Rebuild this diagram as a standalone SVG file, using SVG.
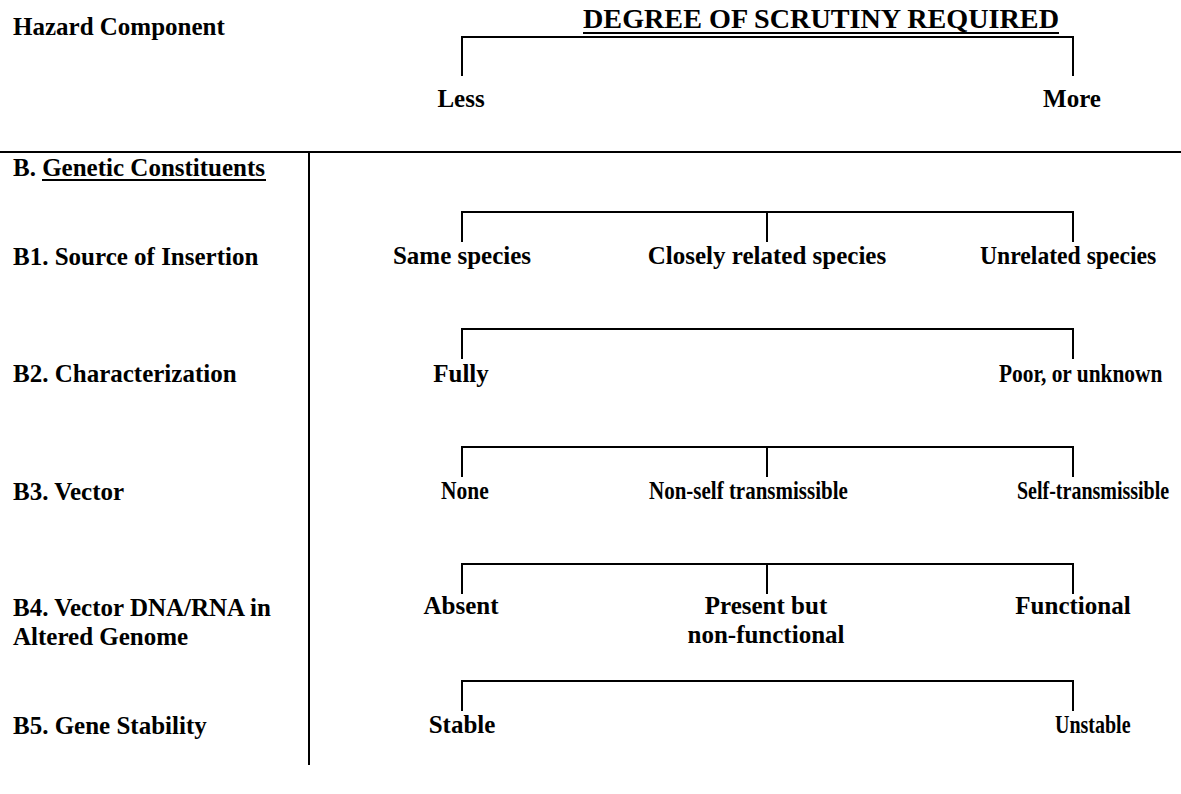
<svg xmlns="http://www.w3.org/2000/svg" width="1181" height="794" viewBox="0 0 1181 794">
<style>
text{font-family:"Liberation Serif","Times New Roman",serif;font-weight:bold;fill:#000;font-size:25px}
.m{text-anchor:middle}
.h{font-size:27px}
.br{fill:none;stroke:#000;stroke-width:2}
.rule{stroke:#000;stroke-width:2}
</style>
<rect width="1181" height="794" fill="#fff"/>
<g id="header">
<text x="13" y="35">Hazard Component</text>
<text class="h" x="583" y="28" textLength="476" lengthAdjust="spacingAndGlyphs">DEGREE OF SCRUTINY REQUIRED</text>
<line class="rule" x1="583" y1="33" x2="1059" y2="33" stroke-width="1.5"/>
<text class="m" x="461" y="107">Less</text>
<text class="m" x="1072" y="107">More</text>
</g>
<g id="table">
<line class="rule" x1="0" y1="152" x2="1181" y2="152"/>
<line class="rule" x1="309" y1="152" x2="309" y2="765"/>
</g>
<g id="section-b">
<text x="13" y="176">B. Genetic Constituents</text>
<line class="rule" x1="42" y1="180" x2="266" y2="180"/>
</g>
<g id="b1">
<text x="13" y="265">B1. Source of Insertion</text>
<text class="m" x="462" y="264">Same species</text>
<text class="m" x="767" y="264">Closely related species</text>
<text transform="translate(980,264) scale(0.947,1)">Unrelated species</text>
</g>
<g id="b2">
<text x="13" y="382">B2. Characterization</text>
<text class="m" x="461" y="382">Fully</text>
<text transform="translate(999,382) scale(0.856,1)">Poor, or unknown</text>
</g>
<g id="b3">
<text x="13" y="500">B3. Vector</text>
<text transform="translate(441,499) scale(0.86,1)">None</text>
<text transform="translate(649,499) scale(0.84,1)">Non-self transmissible</text>
<text transform="translate(1017,499) scale(0.8,1)">Self-transmissible</text>
</g>
<g id="b4">
<text x="13" y="616">B4. Vector DNA/RNA in</text>
<text x="13" y="645">Altered Genome</text>
<text class="m" x="461" y="614">Absent</text>
<text class="m" x="766" y="614">Present but</text>
<text class="m" x="766" y="643">non-functional</text>
<text class="m" x="1073" y="614">Functional</text>
</g>
<g id="b5">
<text x="13" y="734">B5. Gene Stability</text>
<text class="m" x="462" y="733">Stable</text>
<text transform="translate(1055,733) scale(0.8,1)">Unstable</text>
</g>
<g id="connectors">
<path class="br" d="M462,76 V37 H1073 V76"/>
<path class="br" d="M462,242 V212 H1073 V242 M767,212 V242"/>
<path class="br" d="M462,359 V329 H1073 V359"/>
<path class="br" d="M462,477 V447 H1073 V477 M767,447 V477"/>
<path class="br" d="M462,594 V564 H1073 V594 M767,564 V594"/>
<path class="br" d="M462,711 V681 H1073 V711"/>
</g>
</svg>
